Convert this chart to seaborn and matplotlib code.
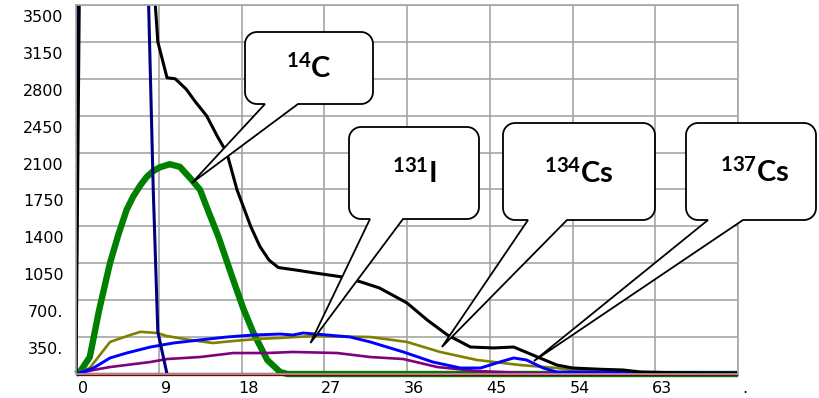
import numpy as np
import pandas as pd
import matplotlib
matplotlib.use("Agg")
import matplotlib.pyplot as plt
import seaborn as sns
from matplotlib.path import Path
from matplotlib.patches import PathPatch
from matplotlib.transforms import ScaledTranslation

# ---- data (days vs. activity) ----
black_x = [0, 0.5, 8.0, 8.9, 9.9, 10.8, 12.0, 13.0, 14.2, 15.4, 16.4, 17.5, 19.0, 20.0, 21.0, 22.0,
           24.0, 26.0, 29.0, 31.0, 33.0, 36.0, 38.2, 40.4, 42.9, 45.4, 47.6, 50.2, 52.3, 54.0,
           57.0, 59.5, 61.4, 65.0, 68.7, 72.0]
black_y = [0, 5000, 4300, 3150, 2810, 2800, 2700, 2580, 2450, 2250, 2100, 1750, 1400, 1210, 1080, 1010,
           985, 958, 920, 873, 816, 674, 512, 370, 256, 247, 256, 161, 85, 57,
           45, 38, 19, 12, 9, 9]

navy_x = [0, 0.3, 7.4, 7.9, 8.4, 8.9, 9.9]
navy_y = [0, 6000, 4500, 3500, 1750, 400, 0]

green_x = [0, 0.5, 1.5, 2.5, 3.7, 4.6, 5.5, 6.2, 7.0, 7.7, 8.4, 9.1, 10.2, 11.3, 12.5, 13.5, 14.2,
           15.5, 17.1, 18.2, 19.3, 20.8, 22.2, 23.0, 72.0]
green_y = [0, 30, 161, 600, 1053, 1320, 1556, 1680, 1790, 1870, 1925, 1960, 1990, 1965, 1850, 1746,
           1587, 1300, 892, 620, 389, 133, 19, 0, 0]

olive_x = [0, 1.5, 3.7, 5.9, 7.0, 8.8, 9.9, 12.4, 14.9, 17.1, 19.7, 22.2, 25.8, 32.0, 36.0,
           39.6, 43.6, 48.3, 52.3, 54.0, 58.0, 72.0]
olive_y = [0, 57, 304, 370, 400, 389, 360, 323, 294, 313, 332, 342, 360, 351, 304,
           209, 133, 85, 57, 38, 12, 8]

blue_x = [0, 1.9, 3.7, 5.5, 8.1, 10.6, 13.5, 16.4, 19.3, 22.2, 23.6, 24.7, 27.3, 29.8, 32.0,
          35.6, 38.8, 41.8, 44.0, 46.1, 47.6, 49.0, 50.8, 52.3, 72.0]
blue_y = [0, 57, 152, 199, 256, 294, 323, 351, 370, 379, 370, 389, 370, 351, 304,
          209, 114, 57, 57, 114, 152, 133, 57, 19, 10]

purple_x = [0, 1.9, 3.7, 8.1, 9.9, 13.5, 17.1, 20.8, 23.6, 28.4, 32.0, 35.6, 39.3, 43.6, 49.0, 72.0]
purple_y = [0, 38, 66, 114, 142, 161, 199, 199, 209, 199, 161, 142, 66, 28, 9, 5]

maroon_x = [0, 72.0]
maroon_y = [0, 0]

x_ticks = [0, 9, 18, 27, 36, 45, 54, 63, 72]
x_tick_labels = ["0", "9", "18", "27", "36", "45", "54", "63", "."]
y_ticks = [350, 700, 1050, 1400, 1750, 2100, 2450, 2800, 3150, 3500]
y_tick_labels = ["350.", "700.", "1050", "1400", "1750", "2100", "2450", "2800", "3150", "3500"]

callout_labels = [r"$^{14}$C", r"$^{131}$I", r"$^{134}$Cs", r"$^{137}$Cs"]
callout_tips_x = [12.6, 25.5, 39.8, 49.8]
callout_tips_y = [1812, 294, 256, 123]

# ---- figure ----
W, H = 819, 398
DPI = 100
sns.set_style("white")
plt.rcParams["font.family"] = ["DejaVu Sans"]
plt.rcParams["mathtext.fontset"] = "custom"
plt.rcParams["mathtext.rm"] = "Lato:bold"
plt.rcParams["mathtext.it"] = "Lato:bold"
plt.rcParams["mathtext.bf"] = "Lato:bold"

fig = plt.figure(figsize=(W / DPI, H / DPI), dpi=DPI)
fig.patch.set_facecolor("white")
ax = fig.add_axes([76 / W, 1 - 374 / H, (738 - 76) / W, (374 - 5) / H])

# (x, y, colour, width, clipped)
series = [
    (green_x, green_y, "#008000", 4.6, False),
    (maroon_x, maroon_y, "#800000", 2.4, False),
    (purple_x, purple_y, "#800080", 1.9, False),
    (olive_x, olive_y, "#808000", 1.9, False),
    (blue_x, blue_y, "#0000FF", 2.1, False),
    (navy_x, navy_y, "#000080", 2.2, True),
    (black_x, black_y, "#000000", 2.2, True),
]
for xs, ys, c, lw, clip in series:
    df = pd.DataFrame({"day": xs, "value": ys})
    sns.lineplot(data=df, x="day", y="value", color=c, linewidth=lw, sort=False,
                 estimator=None, ax=ax, solid_joinstyle="round", solid_capstyle="butt",
                 clip_on=clip)

ax.set_xlim(0, 72)
ax.set_ylim(0, 3500)
ax.set_xlabel("")
ax.set_ylabel("")
ax.set_xticks(x_ticks)
ax.set_xticklabels(x_tick_labels)
ax.set_yticks(y_ticks)
ax.set_yticklabels(y_tick_labels)
ax.grid(True, color="#a6a6a6", linewidth=1.2)
ax.set_axisbelow(True)
for s in ax.spines.values():
    s.set_color("#a6a6a6")
    s.set_linewidth(1.2)
ax.tick_params(axis="both", length=0, labelsize=11.5, colors="#000000")
ax.tick_params(axis="y", pad=9)
ax.tick_params(axis="x", pad=5)

for lab in ax.get_yticklabels():
    lab.set_transform(lab.get_transform() + ScaledTranslation(0, -0.11, fig.dpi_scale_trans))
for lab in ax.get_xticklabels():
    lab.set_transform(lab.get_transform() + ScaledTranslation(0.07, 0, fig.dpi_scale_trans))

# ---- speech-bubble callouts (box geometry in figure pixels, y measured from top) ----
boxes = [
    # left, right, top, bottom, tail_left, tail_right, text_x, text_y
    (245, 373, 32, 104, 265, 298, 309, 68),
    (349, 479, 127, 219, 370, 403, 414, 173),
    (503, 655, 123, 220, 528, 567, 579, 173),
    (686, 816, 123, 220, 708, 743, 755, 172),
]


def arc(cx, cy, r, a0, a1, n=12):
    t = np.radians(np.linspace(a0, a1, n))
    return list(zip(cx + r * np.cos(t), cy + r * np.sin(t)))


fig.canvas.draw()
r = 12
for (L, R, T, B, ta, tb, tx, ty), label, px, py in zip(boxes, callout_labels,
                                                       callout_tips_x, callout_tips_y):
    # convert to y-up pixel coords
    Ty, By = H - T, H - B
    tip = ax.transData.transform((px, py))
    pts = []
    pts += arc(L + r, Ty - r, r, 180, 90)
    pts += arc(R - r, Ty - r, r, 90, 0)
    pts += arc(R - r, By + r, r, 0, -90)
    pts += [(tb, By), (tip[0], tip[1]), (ta, By)]
    pts += arc(L + r, By + r, r, -90, -180)
    pts.append(pts[0])
    pts = [(x / W, y / H) for x, y in pts]
    codes = [Path.MOVETO] + [Path.LINETO] * (len(pts) - 2) + [Path.CLOSEPOLY]
    patch = PathPatch(Path(pts, codes), transform=fig.transFigure, facecolor="white",
                      edgecolor="black", linewidth=1.3, joinstyle="miter", zorder=10)
    fig.add_artist(patch)
    fig.text(tx / W, 1 - ty / H, label, ha="center", va="center", fontsize=21,
             fontweight="bold", family="Lato", color="black", zorder=11)

fig.savefig("out.png", dpi=DPI, facecolor="white")
